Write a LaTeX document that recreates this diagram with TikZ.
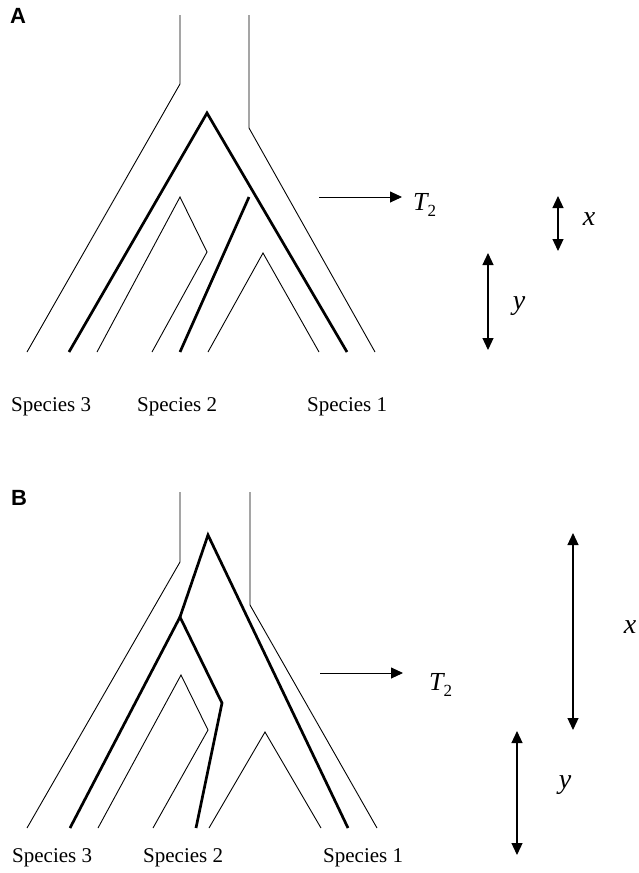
\documentclass[tikz,border=0pt]{standalone}
\usepackage{fontspec}
\setmainfont{Liberation Serif}
\newfontfamily\panelfont{Liberation Sans}
\usetikzlibrary{arrows.meta}
\begin{document}
\begin{tikzpicture}[x=1pt,y=-1pt,
  thinln/.style={line width=0.9pt,line join=miter},
  thickln/.style={line width=2.7pt,line join=miter},
  tip/.style={-{Triangle[length=12pt,width=11pt]}},
  dtip/.style={{Triangle[length=12pt,width=11pt]}-{Triangle[length=12pt,width=11pt]},line width=1.2pt},
  lab/.style={font=\fontsize{21}{25}\selectfont, inner sep=0pt},
  tlab/.style={font=\fontsize{26}{30}\selectfont\itshape, inner sep=0pt},
  mlab/.style={font=\fontsize{28}{32}\selectfont\itshape, inner sep=0pt},
  panel/.style={font=\panelfont\bfseries\fontsize{22}{26}\selectfont, inner sep=0pt}]
\useasboundingbox (0,0) rectangle (639,873);
\fill[white] (0,0) rectangle (639,873);

% ---------------- Panel A ----------------
\node[panel] (pA) at (18,16) {A};
% outer species tree
\coordinate (aL0) at (180,15);
\coordinate (aL1) at (180,84);
\coordinate (aL2) at (27,352);
\coordinate (aR0) at (249,15);
\coordinate (aR1) at (249,128);
\coordinate (aR2) at (375,352);
\draw[thinln] (aL0) -- (aL1) -- (aL2);
\draw[thinln] (aR0) -- (aR1) -- (aR2);
% inner species branches
\coordinate (aI1) at (97,352);
\coordinate (aI2) at (180,197);
\coordinate (aI3) at (207,252);
\coordinate (aI4) at (152,352);
\draw[thinln] (aI1) -- (aI2) -- (aI3) -- (aI4);
\coordinate (aJ1) at (208,352);
\coordinate (aJ2) at (263,253);
\coordinate (aJ3) at (319,352);
\draw[thinln] (aJ1) -- (aJ2) -- (aJ3);
% gene tree
\coordinate (aG0) at (207,113);
\coordinate (aG1) at (69,352);
\coordinate (aG2) at (347,352);
\coordinate (aG3) at (249,197);
\coordinate (aG4) at (180,352);
\draw[thickln] (aG1) -- (aG0) -- (aG2);
\draw[thickln] (aG3) -- (aG4);
% T2 arrow
\coordinate (aT0) at (319,197);
\node[tlab, anchor=west] (aT) at (413,205) {T\raisebox{-6pt}{\upshape\fontsize{17}{17}\selectfont 2}};
\draw[thinln,tip] (aT0) -- (402,197) coordinate (aT1);
% x and y arrows
\coordinate (ax0) at (558,196);
\coordinate (ax1) at (558,251);
\draw[dtip] (ax0) -- (ax1);
\node[mlab] (ax) at (589,219) {x};
\coordinate (ay0) at (488,253);
\coordinate (ay1) at (488,350);
\draw[dtip] (ay0) -- (ay1);
\node[mlab] (ay) at (519,306) {y};
% species labels
\node[lab, anchor=west] (aS3) at (11,407) {Species 3};
\node[lab, anchor=west] (aS2) at (137,407) {Species 2};
\node[lab, anchor=west] (aS1) at (307,407) {Species 1};

% ---------------- Panel B ----------------
\node[panel] (pB) at (19,498) {B};
\coordinate (bL0) at (180,492);
\coordinate (bL1) at (180,562);
\coordinate (bL2) at (27,828);
\coordinate (bR0) at (250,492);
\coordinate (bR1) at (250,605);
\coordinate (bR2) at (377,828);
\draw[thinln] (bL0) -- (bL1) -- (bL2);
\draw[thinln] (bR0) -- (bR1) -- (bR2);
\coordinate (bI1) at (98,828);
\coordinate (bI2) at (181,675);
\coordinate (bI3) at (208,730);
\coordinate (bI4) at (153,828);
\draw[thinln] (bI1) -- (bI2) -- (bI3) -- (bI4);
\coordinate (bJ1) at (209,828);
\coordinate (bJ2) at (265,732);
\coordinate (bJ3) at (321,828);
\draw[thinln] (bJ1) -- (bJ2) -- (bJ3);
% gene tree
\coordinate (bG0) at (208,535);
\coordinate (bG2) at (348,828);
\coordinate (bG3) at (180,617);
\coordinate (bG1) at (70,828);
\coordinate (bG5) at (222,703);
\coordinate (bG6) at (196,828);
\draw[thickln] (bG3) -- (bG0) -- (bG2);
\draw[thickln] (bG1) -- (bG3) -- (bG5) -- (bG6);
% T2 arrow
\coordinate (bT0) at (320,673);
\node[tlab, anchor=west] (bT) at (429,685) {T\raisebox{-6pt}{\upshape\fontsize{17}{17}\selectfont 2}};
\draw[thinln,tip] (bT0) -- (403,673) coordinate (bT1);
% x and y arrows
\coordinate (bx0) at (573,533);
\coordinate (bx1) at (573,730);
\draw[dtip] (bx0) -- (bx1);
\node[mlab] (bx) at (630,627) {x};
\coordinate (by0) at (517,731);
\coordinate (by1) at (517,855);
\draw[dtip] (by0) -- (by1);
\node[mlab] (by) at (565,785) {y};
% species labels
\node[lab, anchor=west] (bS3) at (12,858) {Species 3};
\node[lab, anchor=west] (bS2) at (143,858) {Species 2};
\node[lab, anchor=west] (bS1) at (323,858) {Species 1};
\end{tikzpicture}
\end{document}
